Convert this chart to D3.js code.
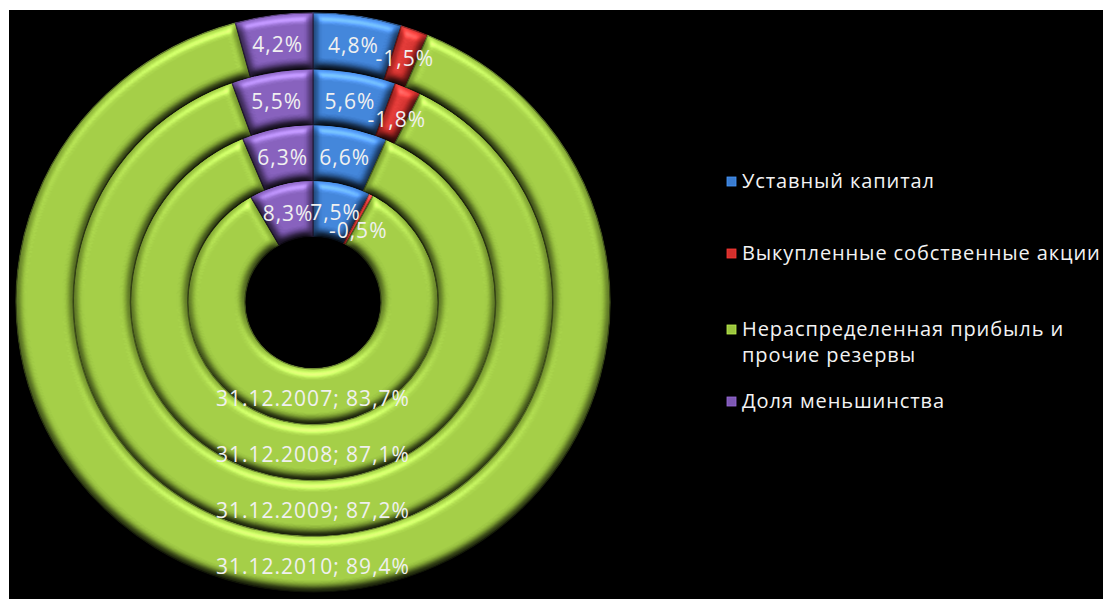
<!DOCTYPE html>
<html>
<head>
<meta charset="utf-8">
<script src="https://cdn.jsdelivr.net/npm/d3@7"></script>
<style>
  html, body { margin: 0; padding: 0; background: #ffffff; }
  svg { display: block; }
</style>
</head>
<body>
<svg id="chart" width="1103" height="599"></svg>
<script>
// Equity structure by reporting date, % of total
const years = ["31.12.2007", "31.12.2008", "31.12.2009", "31.12.2010"];
const categories = [
  "Уставный капитал",
  "Выкупленные собственные акции",
  "Нераспределенная прибыль и прочие резервы",
  "Доля меньшинства"
];
const legendLines = [
  ["Уставный капитал"],
  ["Выкупленные собственные акции"],
  ["Нераспределенная прибыль и", "прочие резервы"],
  ["Доля меньшинства"]
];
const charterCapital = [7.5, 6.6, 5.6, 4.8];
const treasuryShares = [-0.5, 0, -1.8, -1.5];
const retainedEarnings = [83.7, 87.1, 87.2, 89.4];
const minorityShare = [8.3, 6.3, 5.5, 4.2];
const colors = ["#3a7cd0", "#d32f2c", "#9ac43e", "#7d58b3"];

const series = [charterCapital, treasuryShares, retainedEarnings, minorityShare];

const svg = d3.select("#chart");
const W = 1103, H = 599;

svg.append("rect").attr("width", W).attr("height", H).attr("fill", "#ffffff");
svg.append("rect").attr("x", 9).attr("y", 10).attr("width", W - 9).attr("height", H - 10).attr("fill", "#000000");

// soft bevel lighting for the ring segments, lit from above
const defs = svg.append("defs");
const f = defs.append("filter").attr("id", "bevel")
  .attr("x", "-10%").attr("y", "-10%").attr("width", "120%").attr("height", "120%")
  .attr("color-interpolation-filters", "sRGB");
f.append("feGaussianBlur").attr("in", "SourceAlpha").attr("stdDeviation", 5).attr("result", "bump");
f.append("feDiffuseLighting").attr("in", "bump").attr("surfaceScale", 8)
  .attr("diffuseConstant", 1).attr("lighting-color", "#ffffff").attr("result", "diff")
  .append("feDistantLight").attr("azimuth", 270).attr("elevation", 60);
f.append("feComposite").attr("in", "SourceGraphic").attr("in2", "diff")
  .attr("operator", "arithmetic").attr("k1", 1.155).attr("k2", 0).attr("k3", 0).attr("k4", 0)
  .attr("result", "shaded");
f.append("feSpecularLighting").attr("in", "bump").attr("surfaceScale", 8)
  .attr("specularConstant", 0.6).attr("specularExponent", 14)
  .attr("lighting-color", "#ffffff").attr("result", "spec")
  .append("feDistantLight").attr("azimuth", 270).attr("elevation", 35);
f.append("feComposite").attr("in", "spec").attr("in2", "SourceAlpha").attr("operator", "in").attr("result", "specIn");
f.append("feComposite").attr("in", "shaded").attr("in2", "specIn")
  .attr("operator", "arithmetic").attr("k1", 0).attr("k2", 1).attr("k3", 0.35).attr("k4", 0)
  .attr("result", "lit");
f.append("feComposite").attr("in", "lit").attr("in2", "SourceAlpha").attr("operator", "in");

// geometry
const cx = 313, cy = 302.5, squash = 0.975;
const ring = d3.scaleLinear().domain([0, years.length]).range([68, 297]);

const pie = d3.pie().sort(null).value(d => Math.abs(d.value));
const fmt = d3.formatLocale({ decimal: ",", thousands: " ", grouping: [3], currency: ["", ""], minus: "-" }).format(".1f");

const chart = svg.append("g")
  .attr("transform", `translate(${cx},${cy}) scale(1,${squash})`);

const labelLayer = svg.append("g")
  .attr("font-family", "'Open Sans', sans-serif")
  .attr("font-size", 21)
  .attr("letter-spacing", 1)
  .attr("fill", "#f0f0f0")
  .attr("text-anchor", "middle");

years.forEach((year, i) => {
  const rows = categories.map((c, k) => ({ cat: k, value: series[k][i], year }));
  const arcs = pie(rows);
  const rMid = (ring(i) + ring(i + 1)) / 2;
  const arc = d3.arc().innerRadius(ring(i)).outerRadius(ring(i + 1));

  chart.append("g").selectAll("path")
    .data(arcs.filter(a => a.data.value !== 0))
    .join("path")
    .attr("d", arc)
    .attr("fill", d => colors[d.data.cat])
    .attr("stroke", d => d3.color(colors[d.data.cat]).darker(1.4))
    .attr("stroke-width", 1.4)
    .attr("filter", "url(#bevel)");

  // data labels; the dominant slice is labelled at the bottom of its ring,
  // a label that collides with the previous one drops a line
  let prev = null;
  arcs.filter(a => a.data.value !== 0).forEach(a => {
    const big = a.data.cat === 2;
    const c = big ? [0, rMid] : arc.centroid(a);
    const x = cx + c[0];
    let y = cy + c[1] * squash + 2;
    const txt = big
      ? `${a.data.year}; ${fmt(a.data.value)}%`
      : `${fmt(a.data.value)}%`;
    const t = labelLayer.append("text")
      .attr("x", x).attr("y", y).attr("dy", "0.35em").text(txt);
    const w = t.node().getComputedTextLength();
    if (prev && Math.abs(prev.x - x) < (prev.w + w) / 2 - 4 && Math.abs(prev.y - y) < 16) {
      y = prev.y + 18;
      t.attr("y", y);
    }
    prev = { x, y, w };
  });
});

// legend
const legend = svg.append("g")
  .attr("font-family", "'Open Sans', sans-serif")
  .attr("font-size", 20)
  .attr("letter-spacing", 0.9)
  .attr("fill", "#f3f3f3");
const legendY = [188, 260, 336, 408];
categories.forEach((c, k) => {
  const g = legend.append("g").attr("transform", `translate(727,${legendY[k]})`);
  g.append("rect").attr("x", 0).attr("y", -11).attr("width", 9).attr("height", 9)
    .attr("fill", colors[k]).attr("stroke", d3.color(colors[k]).brighter(0.6)).attr("stroke-width", 0.8);
  legendLines[k].forEach((line, j) => {
    g.append("text").attr("x", 15).attr("y", j * 26).text(line);
  });
});
</script>
</body>
</html>
